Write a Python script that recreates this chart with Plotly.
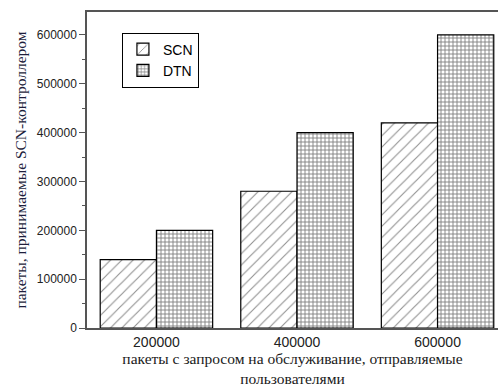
import plotly.graph_objects as go

categories = ["200000", "400000", "600000"]
scn_values = [140000, 280000, 420000]
dtn_values = [200000, 400000, 600000]
y_ticks = [0, 100000, 200000, 300000, 400000, 500000, 600000]

fig = go.Figure()
fig.add_trace(go.Bar(
    x=categories, y=scn_values, name="SCN",
    marker=dict(color="white", line=dict(color="black", width=1.2),
                pattern=dict(shape="/", fgcolor="#222", bgcolor="white", size=8, solidity=0.14)),
))
fig.add_trace(go.Bar(
    x=categories, y=dtn_values, name="DTN",
    marker=dict(color="white", line=dict(color="black", width=1.2),
                pattern=dict(shape="+", fgcolor="black", bgcolor="white", size=4, solidity=0.4)),
))

fig.update_layout(
    width=498, height=387,
    margin=dict(l=87, r=0, t=12, b=59),
    paper_bgcolor="white", plot_bgcolor="white",
    barmode="group", bargap=0.2, bargroupgap=0,
    font=dict(family="Liberation Sans, Arial", size=12, color="#222"),
    showlegend=True,
    legend=dict(x=0.085, y=0.935, xanchor="left", yanchor="top",
                bordercolor="black", borderwidth=1, bgcolor="white",
                font=dict(family="Liberation Sans, Arial", size=14, color="black"),
                tracegroupgap=0, itemwidth=30, entrywidth=60),
    xaxis=dict(
        type="category", range=[-0.494, 2.43],
        showline=True, linecolor="#555", linewidth=1.5, mirror=True,
        ticks="", showgrid=False,
        tickfont=dict(family="Liberation Sans, Arial", size=14, color="#222"),
        title=dict(text="пакеты с запросом на обслуживание, отправляемые<br>пользователями",
                   font=dict(family="Liberation Serif, Times New Roman", size=15.5, color="#1a1a1a"),
                   standoff=4),
    ),
    yaxis=dict(
        range=[0, 647000],
        tickvals=y_ticks, ticktext=[str(v) for v in y_ticks],
        showline=True, linecolor="#555", linewidth=1.5, mirror=False,
        ticks="outside", ticklen=6, tickwidth=1, tickcolor="#555",
        minor=dict(dtick=50000, tick0=0, ticks="outside", ticklen=3, tickcolor="#555"),
        showgrid=False, zeroline=False,
        tickfont=dict(family="Liberation Sans, Arial", size=12, color="#222"),
        title=dict(text="пакеты, принимаемые SCN-контроллером",
                   font=dict(family="Liberation Serif, Times New Roman", size=15.5, color="#1e1e3c"),
                   standoff=6),
    ),
)

fig.write_html("out.html")
